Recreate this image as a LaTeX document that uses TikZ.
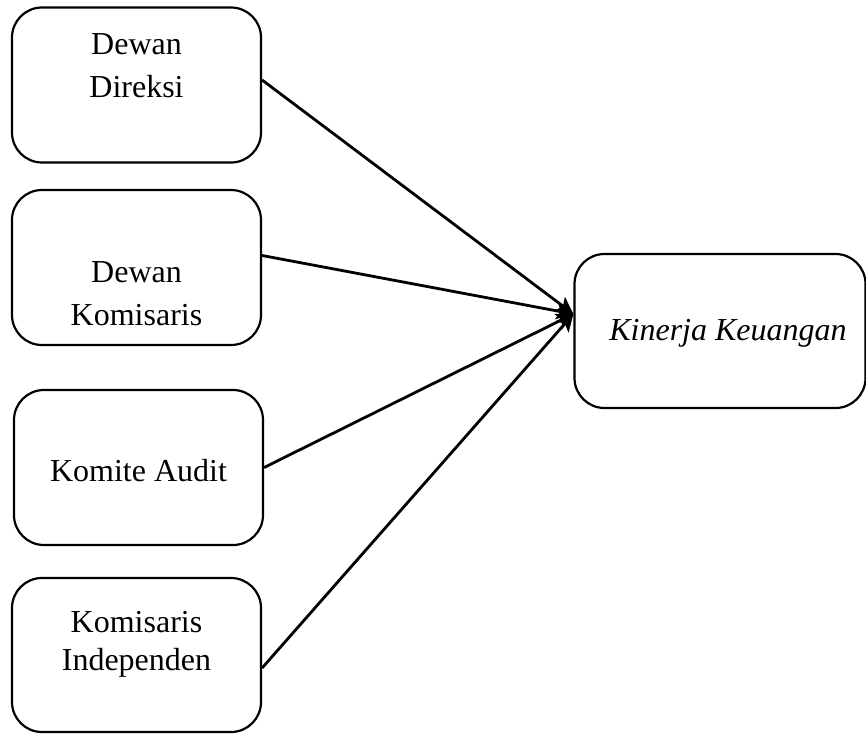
\documentclass[tikz,border=0pt]{standalone}
\usepackage{fontspec}
\setmainfont{Liberation Serif}
\usetikzlibrary{arrows.meta}
\begin{document}
\begin{tikzpicture}[x=1pt,y=-1pt,
  box/.style={draw=black, line width=2.2pt, rounded corners=30pt, minimum width=249pt, minimum height=155pt, inner sep=0pt},
  lbl/.style={align=center, inner sep=0pt, font=\fontsize{32}{43}\selectfont},
  conn/.style={line width=2.8pt, -{Stealth[length=17pt,width=17pt,inset=4pt]}}]
\useasboundingbox (0,0) rectangle (866,733);
% boxes
\node[box] (d1) at (136.5,85) {};
\node[box] (d2) at (136.5,267.5) {};
\node[box] (d3) at (138.5,467.5) {};
\node[box, minimum height=154pt] (d4) at (136.5,655) {};
\node[box, minimum width=291pt, minimum height=154pt] (kk) at (720,331) {};
% labels
\node[lbl, anchor=base] (t1) at (136.5,98) {Dewan\\Direksi};
\node[lbl, anchor=base] (t2) at (136.5,325) {Dewan\\Komisaris};
\node[lbl, anchor=base] (t3) at (138.5,481) {Komite Audit};
\node[lbl, anchor=base, font=\fontsize{32}{38}\selectfont] (t4) at (136.5,670) {Komisaris\\Independen};
\node[lbl, anchor=base, font=\fontsize{32}{38}\itshape] (t5) at (728,340) {Kinerja Keuangan};
% connectors
\coordinate (tip) at ([yshift=17pt]kk.west);
\draw[conn] ([yshift=5pt]d1.east) -- (tip);
\draw[conn] ([yshift=12pt]d2.east) -- (tip);
\draw[conn] (d3.east) -- (tip);
\draw[conn] ([yshift=-13pt]d4.east) -- (tip);
\end{tikzpicture}
\end{document}
